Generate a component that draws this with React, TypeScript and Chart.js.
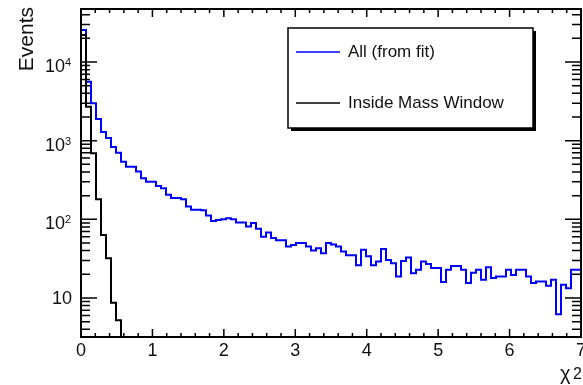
import React, { useEffect, useRef } from "react";
import { Chart, registerables } from "chart.js";

Chart.register(...registerables);

// ---- data ----
const BIN_WIDTH = 0.07;
const X_MIN = 0;
const X_MAX = 7;
const Y_MIN = 3.19;
const Y_MAX = 47200;

const allFromFit = [
  25600, 5600, 3000, 1890, 1290, 1080, 830, 700, 540, 465,
  465, 404, 333, 301, 301, 265, 248, 205, 186, 186,
  180, 145, 132, 132, 130, 112, 95, 98, 100, 103,
  100, 91, 91, 81, 90, 76, 60, 68, 58, 54,
  54, 45, 47, 50, 50, 45, 40, 43, 37, 50,
  48, 45, 39, 35, 35, 26, 41, 34, 26, 29,
  42, 30.5, 27.6, 18.7, 29.6, 32.6, 20.6, 22.8, 29, 27,
  24, 24, 16, 22.8, 25.5, 25.5, 22.8, 15.5, 21, 22.8,
  17, 24.6, 18, 18.7, 18.7, 22.8, 19.6, 22.8, 22.8, 18.7,
  15.5, 16.2, 16.2, 14.3, 17, 6.2, 14.7, 13.3, 22.8, 22.8,
];
const insideMassWindow = [22000, 2700, 690, 180, 63, 32, 8.7, 5.2, 1];

const seriesLabels = ["All (from fit)", "Inside Mass Window"];
const seriesColors = ["#0000ff", "#000000"];
const xTickLabels = ["0", "1", "2", "3", "4", "5", "6", "7"];
const yDecadeValues = [10, 100, 1000, 10000];
const yDecadeExponents = ["", "2", "3", "4"];
const yAxisTitle = "Events";
const xAxisTitle = "χ";
const xAxisTitleSup = "2";

const FONT = "'Liberation Sans', Arial, Helvetica, sans-serif";

function histogramPoints(values: number[]) {
  const pts = values.map((v, i) => ({ x: i * BIN_WIDTH, y: v }));
  pts.push({ x: values.length * BIN_WIDTH, y: values[values.length - 1] });
  return pts;
}

const rootStylePlugin = {
  id: "rootStyle",
  afterDatasetsDraw(chart: any) {
    const { ctx, chartArea } = chart;
    const xs = chart.scales.x;
    const ys = chart.scales.y;
    const { left, right, top, bottom } = chartArea;
    ctx.save();
    ctx.strokeStyle = "#000";
    ctx.fillStyle = "#111";

    // x ticks (bottom and top)
    ctx.lineWidth = 1.5;
    ctx.beginPath();
    for (let k = 0; k <= 35; k++) {
      const v = k * 0.2;
      const major = k % 5 === 0;
      const len = major ? 8 : 4;
      const px = xs.getPixelForValue(v);
      ctx.moveTo(px, bottom);
      ctx.lineTo(px, bottom - len);
      ctx.moveTo(px, top);
      ctx.lineTo(px, top + len);
    }
    // y ticks (left and right)
    for (let d = 1; d <= 10000; d *= 10) {
      for (let m = 1; m <= 9; m++) {
        const v = d * m;
        if (v < Y_MIN || v > Y_MAX) continue;
        const len = m === 1 ? 16 : 9;
        const py = ys.getPixelForValue(v);
        ctx.moveTo(left, py);
        ctx.lineTo(left + len, py);
        ctx.moveTo(right, py);
        ctx.lineTo(right - len, py);
      }
    }
    ctx.stroke();

    // frame
    ctx.lineWidth = 2;
    ctx.strokeRect(left, top, right - left, bottom - top);

    // x tick labels
    ctx.font = `18px ${FONT}`;
    ctx.textAlign = "center";
    ctx.textBaseline = "middle";
    xTickLabels.forEach((lab, i) => {
      ctx.fillText(lab, xs.getPixelForValue(i), 351);
    });

    // y tick labels
    yDecadeValues.forEach((v, i) => {
      const py = ys.getPixelForValue(v);
      const exp = yDecadeExponents[i];
      if (!exp) {
        ctx.font = `18px ${FONT}`;
        ctx.textAlign = "right";
        ctx.textBaseline = "middle";
        ctx.fillText("10", 72, py + 1);
      } else {
        ctx.font = `18px ${FONT}`;
        ctx.textAlign = "right";
        ctx.textBaseline = "middle";
        ctx.fillText("10", 65, py + 5);
        ctx.font = `11px ${FONT}`;
        ctx.textAlign = "left";
        ctx.fillText(exp, 65, py + 1);
      }
    });

    // y axis title
    ctx.save();
    ctx.translate(33, 7);
    ctx.rotate(-Math.PI / 2);
    ctx.font = `21px ${FONT}`;
    ctx.textAlign = "right";
    ctx.textBaseline = "alphabetic";
    ctx.fillText(yAxisTitle, 0, 0);
    ctx.restore();

    // x axis title
    ctx.font = `20px ${FONT}`;
    ctx.textAlign = "left";
    ctx.textBaseline = "alphabetic";
    ctx.fillText(xAxisTitle, 560, 380);
    ctx.font = `16px ${FONT}`;
    ctx.fillText(xAxisTitleSup, 573, 379);

    // legend
    const bx = 288, by = 28, bw = 245, bh = 100;
    ctx.fillStyle = "#000";
    ctx.fillRect(bx + 3, by + 3, bw, bh);
    ctx.fillStyle = "#fff";
    ctx.fillRect(bx, by, bw, bh);
    ctx.lineWidth = 1.5;
    ctx.strokeStyle = "#000";
    ctx.strokeRect(bx, by, bw, bh);
    const rows = [52, 103];
    seriesLabels.forEach((lab, i) => {
      ctx.strokeStyle = seriesColors[i];
      ctx.lineWidth = 1.5;
      ctx.beginPath();
      ctx.moveTo(296, rows[i]);
      ctx.lineTo(340, rows[i]);
      ctx.stroke();
      ctx.fillStyle = "#111";
      ctx.font = `17px ${FONT}`;
      ctx.textAlign = "left";
      ctx.textBaseline = "middle";
      ctx.fillText(lab, 348, rows[i]);
    });

    ctx.restore();
  },
};

export default function App() {
  const canvasRef = useRef<HTMLCanvasElement | null>(null);

  useEffect(() => {
    const canvas = canvasRef.current;
    if (!canvas) return;
    const chart = new Chart(canvas, {
      type: "line",
      data: {
        datasets: [
          {
            label: seriesLabels[0],
            data: histogramPoints(allFromFit),
            borderColor: seriesColors[0],
            borderWidth: 2,
            stepped: "before",
            fill: false,
            pointRadius: 0,
            order: 1,
          },
          {
            label: seriesLabels[1],
            data: histogramPoints(insideMassWindow),
            borderColor: seriesColors[1],
            borderWidth: 2,
            stepped: "before",
            fill: false,
            pointRadius: 0,
            order: 0,
          },
        ],
      },
      options: {
        responsive: false,
        animation: false,
        layout: { padding: { left: 81, right: 2, top: 9, bottom: 48 } },
        scales: {
          x: { type: "linear", min: X_MIN, max: X_MAX, display: false },
          y: { type: "logarithmic", min: Y_MIN, max: Y_MAX, display: false },
        },
        plugins: {
          legend: { display: false },
          tooltip: { enabled: false },
        },
        elements: { line: { tension: 0 } },
      },
      plugins: [rootStylePlugin],
    } as any);
    return () => chart.destroy();
  }, []);

  return (
    <div style={{ position: "absolute", left: 0, top: 0, width: 583, height: 385, background: "#fff" }}>
      <canvas ref={canvasRef} width={583} height={385} style={{ display: "block" }} />
    </div>
  );
}
